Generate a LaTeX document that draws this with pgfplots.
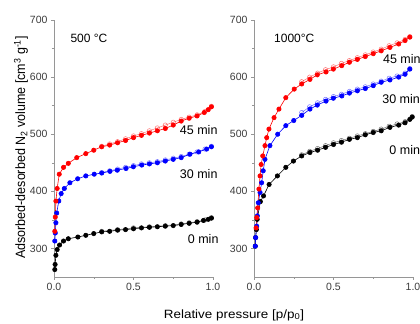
\documentclass[border=0pt]{standalone}
\usepackage{fontspec}
\setmainfont{Liberation Sans}
\usepackage{graphicx}
\usepackage{pgfplots}
\pgfplotsset{compat=1.18}
\definecolor{axgray}{RGB}{150,150,150}
\definecolor{ticktext}{RGB}{60,60,60}
\definecolor{myred}{RGB}{255,0,0}
\definecolor{myblue}{RGB}{0,0,255}
\tikzset{lab/.style={anchor=west, font=\fontsize{12.5bp}{14bp}\selectfont}}
\pgfplotsset{
  iso/.style={
    scale only axis, width=159bp, height=257bp,
    xmin=0, xmax=1, ymin=250, ymax=700,
    axis x line*=bottom, axis y line*=left,
    axis line style={-, draw=axgray, line width=0.6pt},
    tick align=outside, tick style={draw=axgray, line width=0.5pt},
    major tick length=3bp, minor tick length=2bp,
    xtick={0,0.5,1}, ytick={300,400,500,600,700},
    minor x tick num=1, minor y tick num=1,
    tick label style={font=\fontsize{10.5bp}{12bp}\selectfont, text=ticktext},
    /pgf/number format/assume math mode=true,
    xticklabel style={/pgf/number format/.cd, fixed, fixed zerofill, precision=1},
    clip=false,
  },
  ads/.style={line width=0.6pt, mark=*, mark size=2.2pt},
  des/.style={line width=0.5pt, mark=o, mark size=2.2pt, opacity=0.55},
}
\begin{document}
\begin{tikzpicture}
\useasboundingbox (0bp,0bp) rectangle (420bp,324bp);
% ---------------- left: 500 C
\begin{axis}[iso, at={(54bp,47bp)}, anchor=south west]
\addplot[ads, color=black] coordinates {(0.005,263)(0.007,272)(0.012,288)(0.02,298)(0.035,306)(0.06,313)(0.09,317)(0.15,320)(0.20,323)(0.25,326)(0.30,329)(0.35,330)(0.40,332)(0.45,333)(0.50,334.5)(0.55,336)(0.60,337)(0.65,338)(0.70,339)(0.75,340)(0.80,342)(0.85,344)(0.90,346)(0.94,349)(0.97,351)(0.99,353)};
\addplot[des, color=black] coordinates {(0.99,354)(0.95,350)(0.90,347)(0.85,345)(0.80,343)(0.70,340)(0.60,338)(0.50,336)(0.40,333)(0.30,330)};
\addplot[ads, color=myblue] coordinates {(0.005,313)(0.008,327)(0.012,345)(0.017,362)(0.03,383)(0.045,396)(0.065,405)(0.10,415)(0.149,422)(0.20,427)(0.253,430)(0.30,432)(0.352,435)(0.398,437)(0.453,440)(0.499,443)(0.552,446)(0.60,448)(0.65,450)(0.70,453)(0.75,456)(0.80,459)(0.855,465)(0.91,469)(0.96,474)(0.99,478)};
\addplot[des, color=myblue] coordinates {(0.99,479)(0.95,474)(0.90,469)(0.85,465)(0.80,461)(0.75,458)(0.70,455)(0.65,452)(0.60,450)(0.55,448)(0.50,445)(0.45,442)(0.40,439)(0.35,436)(0.30,433)};
\addplot[ads, color=myred] coordinates {(0.005,330)(0.008,355)(0.012,383)(0.02,405)(0.033,430)(0.06,442)(0.09,449)(0.143,459)(0.20,466)(0.25,472)(0.30,478)(0.35,481)(0.40,485)(0.45,489)(0.50,494)(0.55,498)(0.60,502)(0.65,506)(0.70,510)(0.75,516)(0.80,523)(0.85,528)(0.90,532)(0.945,538)(0.97,543)(0.99,548)};
\addplot[des, color=myred] coordinates {(0.99,549)(0.95,540)(0.90,534)(0.85,530)(0.80,526)(0.75,521)(0.70,516)(0.65,511)(0.60,506)(0.55,501)(0.50,497)(0.45,492)(0.40,487)(0.35,483)(0.30,479)};
\node[lab, font=\fontsize{12bp}{14bp}\selectfont] at (axis cs:0.082,668) {500 °C};
\node[lab] at (axis cs:0.77,507) {45 min};
\node[lab] at (axis cs:0.77,431) {30 min};
\node[lab] at (axis cs:0.82,316) {0 min};
\end{axis}
% ---------------- right: 1000 C
\begin{axis}[iso, at={(254bp,47bp)}, anchor=south west]
\addplot[ads, color=black] coordinates {(0.008,304)(0.01,319)(0.015,333)(0.02,351)(0.04,382)(0.06,392)(0.095,412)(0.147,427)(0.20,442)(0.248,453)(0.30,462)(0.352,468)(0.40,472)(0.45,477)(0.50,482)(0.55,486)(0.60,491)(0.65,494)(0.70,499)(0.75,503)(0.80,506)(0.855,512)(0.91,516)(0.95,520)(0.98,526)(0.995,530)};
\addplot[des, color=black] coordinates {(0.995,531)(0.95,522)(0.90,518)(0.85,514)(0.80,509)(0.75,505)(0.70,501)(0.65,497)(0.60,493)(0.55,489)(0.50,485)(0.45,480)(0.40,475)(0.35,470)(0.30,464)};
\addplot[ads, color=myblue] coordinates {(0.008,304)(0.01,319)(0.017,339)(0.021,357)(0.027,380)(0.038,398)(0.048,415)(0.058,436)(0.069,456)(0.10,480)(0.149,500)(0.20,515)(0.25,524)(0.30,533)(0.352,544)(0.398,551)(0.453,558)(0.499,563)(0.552,567)(0.60,572)(0.65,576)(0.70,580)(0.75,585)(0.80,591)(0.855,595)(0.91,600)(0.95,605)(0.98,614)};
\addplot[des, color=myblue] coordinates {(0.98,615)(0.95,607)(0.90,602)(0.85,598)(0.80,593)(0.75,588)(0.70,583)(0.65,579)(0.60,575)(0.55,570)(0.50,566)(0.45,561)(0.40,555)(0.35,548)(0.30,538)};
\addplot[ads, color=myred] coordinates {(0.013,336)(0.017,354)(0.023,371)(0.031,404)(0.038,427)(0.045,447)(0.055,462)(0.069,480)(0.08,494)(0.094,509)(0.126,529)(0.157,544)(0.20,564)(0.253,579)(0.30,588)(0.352,596)(0.398,604)(0.453,609)(0.499,614)(0.552,620)(0.60,626)(0.65,631)(0.70,636)(0.75,641)(0.80,646)(0.855,652)(0.91,658)(0.95,664)(0.98,670)};
\addplot[des, color=myred] coordinates {(0.98,671)(0.95,666)(0.90,660)(0.85,655)(0.80,649)(0.75,644)(0.70,639)(0.65,634)(0.60,629)(0.55,624)(0.50,618)(0.45,613)(0.40,607)(0.35,600)(0.30,592)};
\node[lab, font=\fontsize{12bp}{14bp}\selectfont] at (axis cs:0.105,668) {1000°C};
\node[lab] at (axis cs:0.79,632) {45 min};
\node[lab] at (axis cs:0.785,561) {30 min};
\node[lab] at (axis cs:0.83,473) {0 min};
\end{axis}
\node[rotate=90, font=\fontsize{12.5bp}{14bp}\selectfont] at (21bp,176.5bp) {\scalebox{1}[1.08]{Adsorbed-desorbed N\textsubscript{2} volume [cm\textsuperscript{3} g\textsuperscript{-1}]}};
\node[font=\fontsize{12bp}{14bp}\selectfont] at (234bp,9bp) {\scalebox{1.12}[1]{Relative pressure [p/p\textsubscript{0}]}};
\end{tikzpicture}
\end{document}
